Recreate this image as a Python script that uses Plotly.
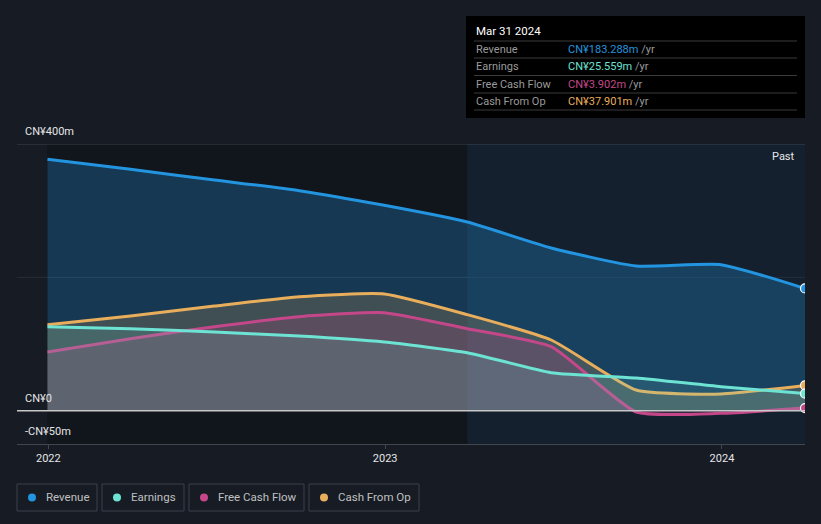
import plotly.graph_objects as go

# ---- data ----
dates = ['2021-12-31', '2022-03-31', '2022-06-30', '2022-09-30', '2022-12-31',
         '2023-03-31', '2023-06-30', '2023-09-30', '2023-12-31', '2024-03-31']
revenue = [377, 362, 346, 330, 308, 283, 244, 217, 219, 183.288]
cash_from_op = [129, 142, 157, 171, 175, 144, 106, 31, 25, 37.901]
free_cash_flow = [88, 108, 126, 141, 147, 123, 96, -2, -4, 3.902]
earnings = [126, 123, 118, 112, 103, 87, 57, 49, 36, 25.559]

series_names = ['Revenue', 'Earnings', 'Free Cash Flow', 'Cash From Op']
series_colors = ['#2394df', '#6de3d3', '#c4478a', '#e9ae5c']
tooltip_date = 'Mar 31 2024'
tooltip_values = ['CN¥183.288m', 'CN¥25.559m', 'CN¥3.902m', 'CN¥37.901m']
y_labels = [(400, 'CN¥400m'), (0, 'CN¥0'), (-50, '-CN¥50m')]
x_ticks = ['2022-01-01', '2023-01-01', '2024-01-01']
x_ticktext = ['2022', '2023', '2024']

BG = '#161b24'
W, H = 821, 524
L, R, T, B = 17, 805, 144, 444


def px(x):
    return (x - L) / (R - L)


def py(y):
    return (B - y) / (B - T)


fig = go.Figure()

fills = {
    'Revenue': 'rgba(35,148,223,0.28)',
    'Cash From Op': 'rgba(233,174,92,0.2)',
    'Free Cash Flow': 'rgba(196,71,138,0.2)',
    'Earnings': 'rgba(109,227,211,0.16)',
}
data_map = {'Revenue': revenue, 'Earnings': earnings,
            'Free Cash Flow': free_cash_flow, 'Cash From Op': cash_from_op}
color_map = dict(zip(series_names, series_colors))

for name in ['Revenue', 'Cash From Op', 'Free Cash Flow', 'Earnings']:
    fig.add_trace(go.Scatter(
        x=dates, y=data_map[name], mode='lines', name=name,
        line=dict(color=color_map[name], width=3, shape='spline', smoothing=0.5),
        fill='tozeroy', fillcolor=fills[name], hoverinfo='skip', showlegend=False))

# end markers (clipped at the plot edge, as in the original)
for name in ['Revenue', 'Cash From Op', 'Earnings', 'Free Cash Flow']:
    fig.add_trace(go.Scatter(
        x=[dates[-1]], y=[data_map[name][-1]], mode='markers',
        marker=dict(size=9, color=color_map[name], line=dict(color='white', width=1.2)),
        hoverinfo='skip', showlegend=False, cliponaxis=True))

shapes = []
# region backgrounds
shapes.append(dict(type='rect', xref='x', yref='paper', x0=dates[0], x1='2023-03-31',
                   y0=0, y1=1, fillcolor='#11151c', line=dict(width=0), layer='below'))
shapes.append(dict(type='rect', xref='x', yref='paper', x0='2023-03-31', x1=dates[-1],
                   y0=0, y1=1, fillcolor='#14202e', line=dict(width=0), layer='below'))
# grid lines
shapes.append(dict(type='line', xref='paper', yref='y', x0=0, x1=1, y0=400, y1=400,
                   line=dict(color='#3d424b', width=1), layer='below'))
shapes.append(dict(type='line', xref='paper', yref='y', x0=0, x1=1, y0=200, y1=200,
                   line=dict(color='#262e3a', width=1), layer='below'))
shapes.append(dict(type='line', xref='paper', yref='y', x0=0, x1=1, y0=0, y1=0,
                   line=dict(color='#c8c8c8', width=1.5), layer='above'))

annotations = []
for v, t in y_labels:
    annotations.append(dict(xref='paper', yref='y', x=px(23), y=v, text=t, showarrow=False,
                            xanchor='left', yanchor='bottom', yshift=4,
                            font=dict(color='#e6e6e6', size=11)))
annotations.append(dict(xref='paper', yref='paper', x=px(797), y=py(156), text='Past',
                        showarrow=False, xanchor='right', yanchor='middle',
                        font=dict(color='#e6e6e6', size=11)))

# tooltip box
shapes.append(dict(type='rect', xref='paper', yref='paper', x0=px(466), x1=px(805),
                   y0=py(118), y1=py(16), fillcolor='#000000', line=dict(width=0)))
annotations.append(dict(xref='paper', yref='paper', x=px(474), y=py(31), text=tooltip_date,
                        showarrow=False, xanchor='left', yanchor='middle',
                        font=dict(color='#ffffff', size=11.5)))
for yy in [41, 58, 75.5, 93, 110]:
    shapes.append(dict(type='line', xref='paper', yref='paper', x0=px(474), x1=px(797),
                       y0=py(yy), y1=py(yy), line=dict(color='#3a3a3a', width=1)))
row_y = [49.5, 66.5, 84, 101.5]
for i, name in enumerate(series_names):
    annotations.append(dict(xref='paper', yref='paper', x=px(474), y=py(row_y[i]), text=name,
                            showarrow=False, xanchor='left', yanchor='middle',
                            font=dict(color='#9a9a9a', size=11)))
    annotations.append(dict(xref='paper', yref='paper', x=px(566), y=py(row_y[i]),
                            text=f"<span style='color:{series_colors[i]}'>{tooltip_values[i]}</span>"
                                 f"<span style='color:#9a9a9a'> /yr</span>",
                            showarrow=False, xanchor='left', yanchor='middle',
                            font=dict(size=11)))

# custom legend
leg_boxes = [(17, 97), (102, 184), (189, 304), (309, 419)]
for i, name in enumerate(series_names):
    x0, x1 = leg_boxes[i]
    shapes.append(dict(type='rect', xref='paper', yref='paper', x0=px(x0), x1=px(x1),
                       y0=py(511), y1=py(484), line=dict(color='#3a404a', width=1),
                       fillcolor='rgba(0,0,0,0)'))
    shapes.append(dict(type='circle', xref='paper', yref='paper', x0=px(x0 + 11), x1=px(x0 + 19),
                       y0=py(501.5), y1=py(493.5), line=dict(width=0),
                       fillcolor=series_colors[i]))
    annotations.append(dict(xref='paper', yref='paper', x=px(x0 + 27), y=py(496.5), text=name,
                            showarrow=False, xanchor='left', yanchor='middle',
                            font=dict(color='#c0c0c0', size=11.5)))

fig.update_layout(
    width=W, height=H,
    margin=dict(l=L, r=W - R, t=T, b=H - B),
    paper_bgcolor=BG, plot_bgcolor=BG,
    font=dict(family='Roboto, Open Sans, sans-serif', color='#e6e6e6'),
    shapes=shapes, annotations=annotations, showlegend=False,
    xaxis=dict(type='date', range=['2021-11-28', '2024-03-31'], tickvals=x_ticks,
               ticktext=x_ticktext, showgrid=False, zeroline=False, showline=True,
               linecolor='#41464f', linewidth=1, ticks='outside', ticklen=4,
               tickcolor='#41464f', tickfont=dict(color='#e6e6e6', size=11), fixedrange=True),
    yaxis=dict(range=[-50, 400], showgrid=False, zeroline=False, showticklabels=False,
               fixedrange=True),
)

fig.write_html('out.html', config={'displayModeBar': False})

# remove default page margin so the figure sits at the window origin
with open('out.html', 'r', encoding='utf-8') as f:
    html = f.read()
html = html.replace('<head>', '<head><style>html,body{margin:0;padding:0;background:#161b24;overflow:hidden;}</style>', 1)
with open('out.html', 'w', encoding='utf-8') as f:
    f.write(html)
